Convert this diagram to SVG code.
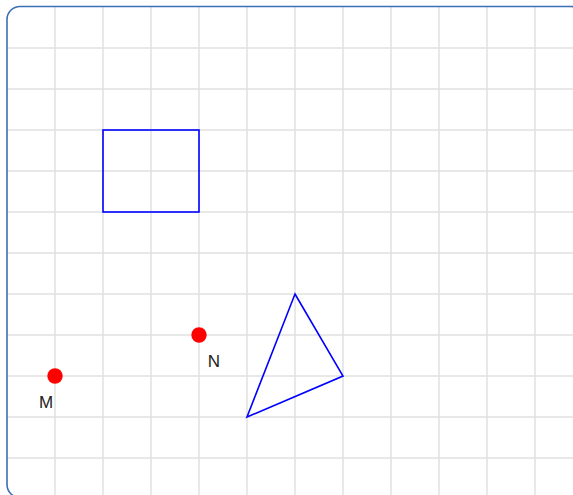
<svg xmlns="http://www.w3.org/2000/svg" width="573" height="495" viewBox="0 0 573 495">
<style>
.grid line{stroke:#e0e0e0;stroke-width:1.5}
.shape{fill:none;stroke:#0000ff;stroke-width:1.6;stroke-linejoin:miter}
.pt{fill:#ff0000}
.lbl{font-family:"Liberation Sans",Arial,sans-serif;font-size:17px;fill:#222;text-anchor:middle}
</style>
<rect x="0" y="0" width="573" height="495" fill="#ffffff"/>
<g class="grid" id="grid">
<line x1="55" y1="7" x2="55" y2="495"/>
<line x1="103" y1="7" x2="103" y2="495"/>
<line x1="151" y1="7" x2="151" y2="495"/>
<line x1="199" y1="7" x2="199" y2="495"/>
<line x1="247" y1="7" x2="247" y2="495"/>
<line x1="295" y1="7" x2="295" y2="495"/>
<line x1="343" y1="7" x2="343" y2="495"/>
<line x1="391" y1="7" x2="391" y2="495"/>
<line x1="439" y1="7" x2="439" y2="495"/>
<line x1="487" y1="7" x2="487" y2="495"/>
<line x1="535" y1="7" x2="535" y2="495"/>
<line x1="7" y1="48" x2="573" y2="48"/>
<line x1="7" y1="89" x2="573" y2="89"/>
<line x1="7" y1="130" x2="573" y2="130"/>
<line x1="7" y1="171" x2="573" y2="171"/>
<line x1="7" y1="212" x2="573" y2="212"/>
<line x1="7" y1="253" x2="573" y2="253"/>
<line x1="7" y1="294" x2="573" y2="294"/>
<line x1="7" y1="335" x2="573" y2="335"/>
<line x1="7" y1="376" x2="573" y2="376"/>
<line x1="7" y1="417" x2="573" y2="417"/>
<line x1="7" y1="458" x2="573" y2="458"/>
</g>
<rect id="frame" x="7" y="6.5" width="577" height="491" rx="13" ry="13" fill="none" stroke="#3b6fb6" stroke-width="1.6"/>
<g id="rectangle"><rect class="shape" x="103" y="130" width="96" height="82"/></g>
<g id="triangle"><polygon class="shape" points="295,294 343,376 247,417"/></g>
<g id="M"><circle class="pt" cx="55" cy="376" r="7.7"/><text class="lbl" x="46" y="408">M</text></g>
<g id="N"><circle class="pt" cx="199" cy="335" r="7.7"/><text class="lbl" x="214" y="367">N</text></g>
</svg>
